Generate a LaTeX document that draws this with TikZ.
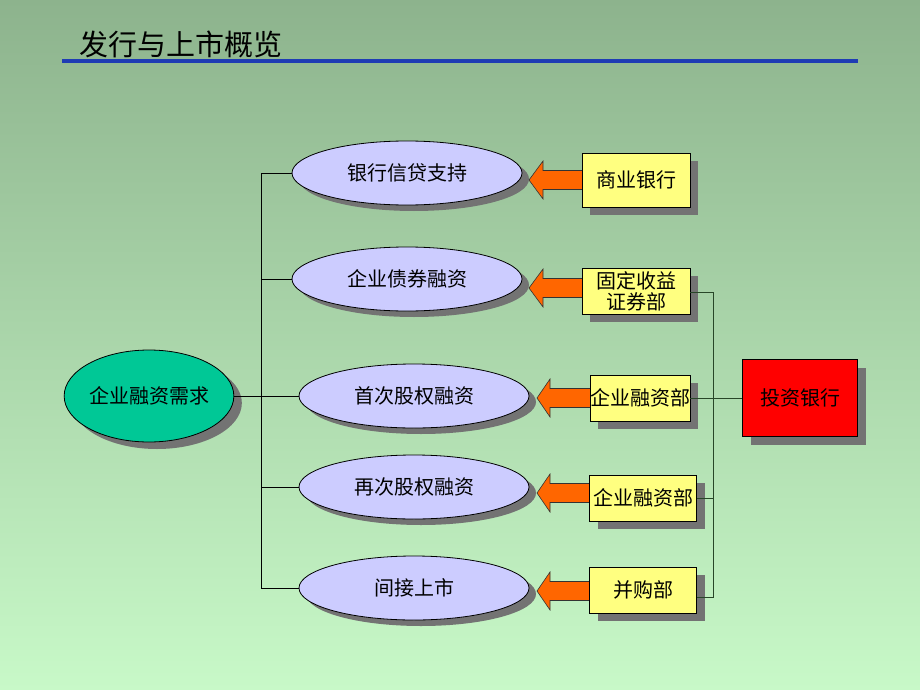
\documentclass[tikz,border=0pt]{standalone}
\usepackage{fontspec}
\newfontfamily\cjk{Noto Sans CJK SC}
\usetikzlibrary{shapes.geometric,shadows,calc}
\definecolor{bgtop}{RGB}{141,179,141}
\definecolor{bgbot}{RGB}{200,249,200}
\definecolor{titleblue}{RGB}{30,60,180}
\definecolor{lav}{RGB}{204,204,255}
\definecolor{teal}{RGB}{0,200,150}
\definecolor{yel}{RGB}{255,255,128}
\definecolor{orng}{RGB}{255,102,0}
\definecolor{shd}{RGB}{115,115,115}
\definecolor{rline}{RGB}{40,70,40}
\begin{document}
\begin{tikzpicture}[x=1pt,y=-1pt,
  txt/.style={font=\cjk\fontsize{20}{24}\selectfont, text=black},
  oval/.style={ellipse, draw=black, line width=0.8pt, fill=lav, minimum width=230pt, minimum height=64pt, inner sep=0pt, txt,
     drop shadow={shadow xshift=7pt, shadow yshift=-6pt, fill=shd, opacity=1}},
  boxy/.style={rectangle, draw=black, line width=0.8pt, fill=yel, inner sep=0pt, txt, align=center,
     drop shadow={shadow xshift=8pt, shadow yshift=-8pt, fill=shd, opacity=1}},
  tree/.style={draw=black, line width=0.8pt},
  rtree/.style={draw=rline, line width=0.8pt},
  blockarrow/.style={fill=orng, draw=black!80, line width=0.6pt, line join=miter}]
\useasboundingbox (0,0) rectangle (920,690);
\shade[top color=bgtop, bottom color=bgbot] (0,0) rectangle (920,690);
% title
\node[font=\cjk\fontsize{29}{33}\selectfont, anchor=west, inner sep=0pt] (title) at (79,44) {发行与上市概览};
\draw[titleblue, line width=3.5pt] (62,61) -- (858,61);
% left ellipse
\node[ellipse, draw=black, line width=0.8pt, fill=teal, minimum width=162pt, minimum height=92pt, inner sep=0pt, txt,
  drop shadow={shadow xshift=8pt, shadow yshift=-7pt, fill=shd, opacity=1}] (e0) at (149,396) {企业融资需求};
% ellipses
\node[oval] (e1) at (407,173) {银行信贷支持};
\node[oval] (e2) at (407,279) {企业债券融资};
\node[oval] (e3) at (414,396) {首次股权融资};
\node[oval] (e4) at (414,487) {再次股权融资};
\node[oval] (e5) at (414,588) {间接上市};
% tree lines
\coordinate (j) at (261,396);
\draw[tree] (e0.east) -- (j);
\foreach \e in {e1,e2,e3,e4,e5} { \draw[tree] (\e.west) -- (\e.west -| j); }
\draw[tree] (e1.west -| j) -- (e5.west -| j);
% arrows (drawn before boxes)
\foreach \tip/\base/\end/\y in {529/543/590/180, 529/543/590/288, 537/550/596/398, 537/550/596/493, 537/550/596/591} {
  \draw[blockarrow] (\end,\y-9.5) -- (\base,\y-9.5) -- (\base,\y-19) -- (\tip,\y) -- (\base,\y+19) -- (\base,\y+9.5) -- (\end,\y+9.5) -- cycle;
}
% boxes
\node[boxy, minimum width=108pt, minimum height=54pt] (b1) at (636,180) {商业银行};
\node[boxy, minimum width=108pt, minimum height=46pt, text depth=0pt] (b2) at (636,291) {\fontsize{20}{22}\selectfont 固定收益\\[-3pt]证券部};
\node[boxy, minimum width=100pt, minimum height=46pt] (b3) at (640,398) {企业融资部};
\node[boxy, minimum width=107pt, minimum height=46pt] (b4) at (643,498) {企业融资部};
\node[boxy, minimum width=107pt, minimum height=46pt] (b5) at (643,590) {并购部};
\node[rectangle, draw=black, line width=0.8pt, fill=red, minimum width=115pt, minimum height=77pt, inner sep=0pt, txt,
  drop shadow={shadow xshift=8pt, shadow yshift=-8pt, fill=shd, opacity=1}] (ib) at (800,398) {投资银行};
% right lines
\coordinate (k) at (713,292);
\coordinate (k5) at (713,597);
\draw[rtree] (b2.east |- k) -- (k) -- (k5) -- (k5 -| b5.east);
\draw[rtree] (b3.east) -- (ib.west);
\draw[rtree] (b4.east) -- (b4.east -| k);
\end{tikzpicture}
\end{document}
